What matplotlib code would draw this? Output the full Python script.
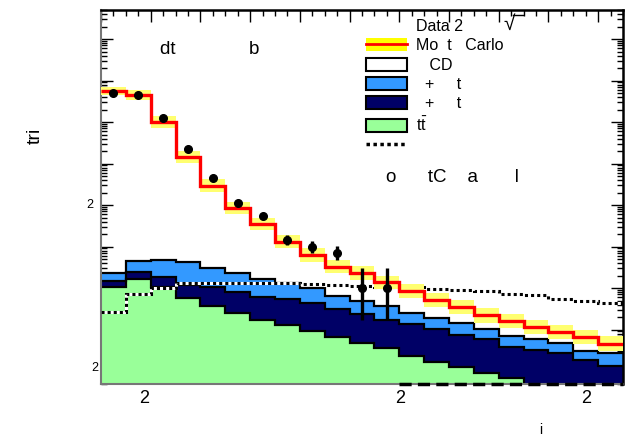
import numpy as np
import matplotlib
matplotlib.use("Agg")
import matplotlib.pyplot as plt
from matplotlib.patches import Patch
from matplotlib.lines import Line2D
from matplotlib.ticker import MultipleLocator, LogLocator, NullFormatter

plt.rcParams['font.family'] = ['Liberation Sans', 'DejaVu Sans']
plt.rcParams['mathtext.fontset'] = 'custom'
plt.rcParams['mathtext.rm'] = 'Liberation Sans'
plt.rcParams['mathtext.it'] = 'Liberation Sans'

# 21 bins
ttbar = [1074, 1648, 1074, 565, 368, 245, 169, 128, 92, 67, 48, 35, 23, 16.8, 12.3, 9.1, 6.7, 0, 0, 0, 0]
wjets_dark = [426, 824, 737, 616, 672, 570, 448, 406, 336, 240, 186, 134, 113, 84, 61, 49, 32, 32, 27.6, 18.4, 13.2]
wjets_light = [760, 2003, 2919, 2979, 1945, 1445, 1003, 764, 556, 334, 260, 199, 109, 85, 67, 45, 31, 26, 20.4, 12.4, 13.5]
qcd = [5.68e7, 4.48e7, 9.84e6, 1.46e6, 2.92e5, 8.09e4, 3.32e4, 1.18e4, 5256, 2619, 1803, 1012, 602, 328, 208, 117, 89, 57, 39, 35, 19]
mc_unc = [0.25, 0.35, 0.4, 0.4, 0.4, 0.4, 0.4, 0.45, 0.45, 0.45, 0.45, 0.45, 0.5, 0.5, 0.5, 0.5, 0.5, 0.5, 0.5, 0.5, 0.5]
signal = [260, 705, 984, 1298, 1342, 1298, 1298, 1298, 1228, 1181, 1136, 1074, 1040, 973, 895, 847, 717, 697, 558, 500, 443]

nan = np.nan
data = [4.92e7, 4.48e7, 1.23e7, 2.24e6, 4.40e5, 1.10e5, 5.43e4, 1.43e4, 9890, 6860, 984, 984,
        nan, nan, nan, nan, nan, nan, nan, nan, nan]
data_lo = [4.8e7, 4.37e7, 1.19e7, 2.17e6, 4.25e5, 1.05e5, 5.1e4, 1.09e4, 7090, 4650, 169, 169,
           nan, nan, nan, nan, nan, nan, nan, nan, nan]
data_hi = [5.05e7, 4.6e7, 1.27e7, 2.31e6, 4.55e5, 1.15e5, 5.8e4, 1.89e4, 1.38e4, 1.03e4, 2985, 2985,
           nan, nan, nan, nan, nan, nan, nan, nan, nan]

edges = np.arange(len(ttbar) + 1)
centers = edges[:-1] + 0.5
ymin, ymax = 10 ** 0.687, 10 ** 9.699

c1 = np.array(ttbar, float)
c2 = c1 + np.array(wjets_dark)
c3 = c2 + np.array(wjets_light)
total = c3 + np.array(qcd)
unc = 1 + np.array(mc_unc)

fig = plt.figure(figsize=(6.34, 4.36), dpi=100)
ax = fig.add_axes([101 / 634, 52 / 436, 522 / 634, 374 / 436])
ax.set_yscale('log')
ax.set_xlim(edges[0], edges[-1])
ax.set_ylim(ymin, ymax)
ax.set_axisbelow(True)

low = 1e-3
ax.stairs(np.maximum(c3, low), edges, baseline=np.maximum(c2, low), fill=True, color='#3399ff', zorder=1)
ax.stairs(np.maximum(c2, low), edges, baseline=np.maximum(c1, low), fill=True, color='#000066', zorder=1)
ax.stairs(np.maximum(c1, low), edges, baseline=low, fill=True, color='#99ff99', zorder=1)
for c in [c1, c2, c3]:
    ax.stairs(np.maximum(c, low), edges, baseline=None, color='black', lw=1.6, zorder=2)

# dotted
ax.stairs(signal, edges, baseline=None, color='white', lw=2.2, zorder=3)
ax.stairs(signal, edges, baseline=None, color='black', lw=2.2, ls=(0, (1, 1)), zorder=3)

ax.stairs(total * unc, edges, baseline=total / unc, fill=True, color='#ffff70', zorder=4)
ax.stairs(total, edges, baseline=None, color='red', lw=2.4, zorder=5)

d = np.array(data)
ax.errorbar(centers, d, yerr=[d - np.array(data_lo), np.array(data_hi) - d], fmt='o',
            color='black', ms=5.5, elinewidth=2.4, capsize=0, zorder=6)
empty = np.isnan(d)
ax.hlines(ymin, edges[:-1][empty][0], edges[-1], color='black', lw=2.5,
          linestyles=(0, (3.5, 1.8)), clip_on=False, zorder=7)

# axes style
ax.xaxis.set_major_locator(MultipleLocator(2))
ax.xaxis.set_minor_locator(MultipleLocator(0.5))
ax.yaxis.set_major_locator(LogLocator(base=10, numticks=20))
ax.yaxis.set_minor_locator(LogLocator(base=10, subs=np.arange(2, 10), numticks=20))
ax.yaxis.set_minor_formatter(NullFormatter())
ax.tick_params(which='both', direction='in', top=True, bottom=False, left=True, right=True,
               labelbottom=False, labelleft=False, color='black', width=1)
ax.tick_params(which='major', length=8.5)
ax.tick_params(which='minor', length=4.5)
for s in ['top', 'right']:
    ax.spines[s].set_linewidth(1.8)
for s in ['left', 'bottom']:
    ax.spines[s].set_color('#777777')
    ax.spines[s].set_linewidth(1.5)

# garbled tick labels as rendered
ax.text(1.73, -0.04, '2', transform=ax.get_xaxis_transform(), ha='center', va='center', fontsize=13)
ax.text(12.05, -0.04, '2', transform=ax.get_xaxis_transform(), ha='center', va='center', fontsize=13)
ax.text(19.51, -0.04, '2', transform=ax.get_xaxis_transform(), ha='center', va='center', fontsize=13)
ax.text(-0.021, 1e5, '2', transform=ax.get_yaxis_transform(), ha='center', va='center', fontsize=9)
ax.text(-0.012, 11.7, '2', transform=ax.get_yaxis_transform(), ha='center', va='center', fontsize=9)

fig.text(35 / 634, 1 - 136 / 436, 'tri', rotation=90, ha='center', va='center', fontsize=14)
fig.text(541 / 634, 1 - 430 / 436, 'i', ha='center', va='center', fontsize=10)

ax.text((160 - 101) / 522, (384 - 50) / 374, 'dt              b', transform=ax.transAxes,
        ha='left', va='center', fontsize=13.5)
ax.text((386 - 101) / 522, (384 - 178) / 374, 'o      tC    a       l', transform=ax.transAxes,
        ha='left', va='center', fontsize=13.5)

handles = [
    Line2D([], [], ls='none'),
    (Patch(facecolor='#ffff00', edgecolor='none'), Line2D([], [], color='red', lw=2)),
    Patch(facecolor='white', edgecolor='black', lw=1.5),
    Patch(facecolor='#3399ff', edgecolor='black', lw=1.5),
    Patch(facecolor='#000066', edgecolor='black', lw=1.5),
    Patch(facecolor='#99ff99', edgecolor='black', lw=1.5),
    Line2D([], [], color='black', lw=2.5, ls=(0, (1, 1))),
]
labels = ['Data 2', 'Mo  t   Carlo', '   CD', '  +     t', '  +     t',
          r't$\bar{\mathrm{t}}$', '']
ax.legend(handles, labels, loc='upper left', bbox_to_anchor=((366 - 101) / 522, (384 - 19) / 374),
          frameon=False, fontsize=11.5, borderpad=0, borderaxespad=0, labelspacing=0.27,
          handlelength=2.56, handleheight=0.86, handletextpad=0.55)

# square-root sign after "Data 2"
ax.text((509 - 101) / 522, (384 - 24) / 374, '\u221a', transform=ax.transAxes,
        ha='center', va='center', fontsize=15)
ax.plot([(513 - 101) / 522, (523 - 101) / 522], [(384 - 15) / 374] * 2, color='black',
        lw=1, transform=ax.transAxes, clip_on=False)

fig.savefig('out.png', dpi=100)
